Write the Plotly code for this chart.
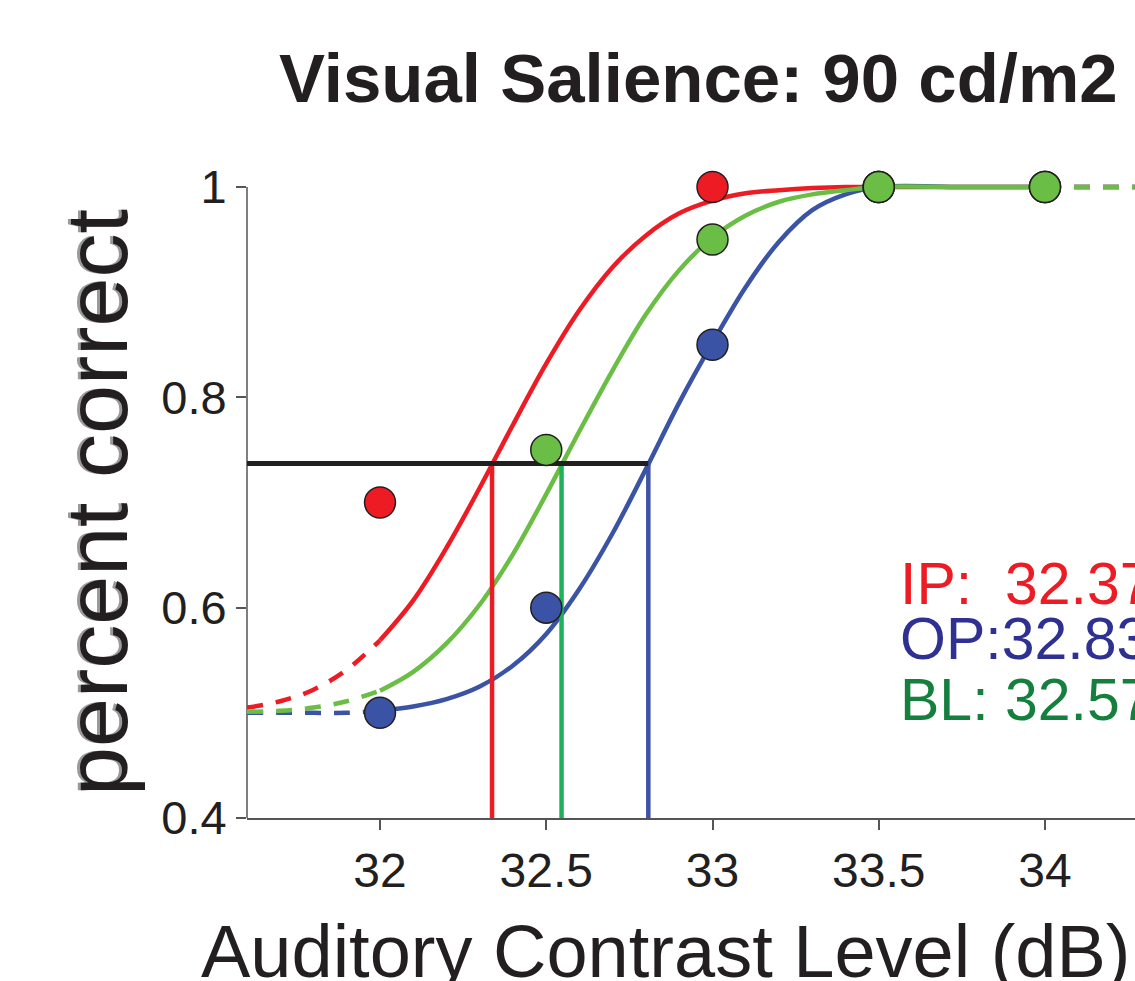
import plotly.graph_objects as go

# ---------------- data ----------------
x_ticks = [32, 32.5, 33, 33.5, 34]
x_tick_labels = ["32", "32.5", "33", "33.5", "34"]
y_ticks = [0.4, 0.6, 0.8, 1.0]
y_tick_labels = ["0.4", "0.6", "0.8", "1"]

# observed proportions
ip_x = [32, 33, 33.5, 34]
ip_y = [0.70, 1.00, 1.00, 1.00]
op_x = [32, 32.5, 33, 33.5, 34]
op_y = [0.50, 0.60, 0.85, 1.00, 1.00]
bl_x = [32.5, 33, 33.5, 34]
bl_y = [0.75, 0.95, 1.00, 1.00]

# fitted curves
curve_x = [31.6, 31.7, 31.8, 31.9, 32.0, 32.1, 32.2, 32.3, 32.4, 32.5, 32.6,
           32.7, 32.8, 32.9, 33.0, 33.1, 33.2, 33.3, 33.4, 33.5, 33.75, 34.0,
           34.27]
ip_curve = [0.505, 0.511, 0.522, 0.541, 0.569, 0.607, 0.657, 0.714, 0.774,
            0.832, 0.883, 0.924, 0.954, 0.975, 0.987, 0.994, 0.997, 0.999,
            1.0, 1.0, 1.0, 1.0, 1.0]
op_curve = [0.500, 0.500, 0.500, 0.500, 0.502, 0.506, 0.513, 0.525, 0.545,
            0.575, 0.618, 0.671, 0.732, 0.795, 0.852, 0.905, 0.948, 0.978,
            0.993, 1.0, 1.0, 1.0, 1.0]
bl_curve = [0.501, 0.502, 0.505, 0.511, 0.521, 0.539, 0.566, 0.603, 0.651,
            0.708, 0.768, 0.826, 0.879, 0.921, 0.952, 0.973, 0.986, 0.993,
            0.997, 1.0, 1.0, 1.0, 1.0]
data_min, data_max = 32.0, 34.0

# thresholds
criterion = 0.737
thr_ip, thr_op, thr_bl = 32.337, 32.807, 32.546

labels = ["IP:\u00a0\u00a032.37", "OP:32.83", "BL:\u00a032.57"]

# ---------------- styling ----------------
RED = "#ED1C24"
BLUE = "#3A53A4"
GREEN = "#6ABD45"
GREEN_V = "#1FB25A"
BLUE_V = "#4052A5"
INK = "#231F20"
AXIS = "#555555"
FONT = "Liberation Sans, Arial, sans-serif"
DASH = "16px,13px"

fig = go.Figure()


def add_curve(ys, color):
    left = [(x, y) for x, y in zip(curve_x, ys) if x <= data_min]
    mid = [(x, y) for x, y in zip(curve_x, ys) if data_min <= x <= data_max]
    right = [(x, y) for x, y in zip(curve_x, ys) if x >= data_max]
    for seg, dash in ((left, DASH), (mid, "solid"), (right, DASH)):
        fig.add_trace(go.Scatter(
            x=[p[0] for p in seg], y=[p[1] for p in seg], mode="lines",
            line=dict(color=color, width=4.5, shape="spline", dash=dash),
            hoverinfo="skip"))


add_curve(ip_curve, RED)
add_curve(op_curve, BLUE)
add_curve(bl_curve, GREEN)

# threshold droplines
for t, c in ((thr_ip, RED), (thr_bl, GREEN_V), (thr_op, BLUE_V)):
    fig.add_trace(go.Scatter(x=[t, t], y=[0.4, criterion], mode="lines",
                             line=dict(color=c, width=4.5), hoverinfo="skip"))
fig.add_trace(go.Scatter(x=[31.6, max(thr_ip, thr_op, thr_bl)],
                         y=[criterion, criterion], mode="lines",
                         line=dict(color=INK, width=5), hoverinfo="skip"))

# observed points
for xs, ys, c in ((ip_x, ip_y, RED), (op_x, op_y, BLUE), (bl_x, bl_y, GREEN)):
    fig.add_trace(go.Scatter(
        x=xs, y=ys, mode="markers", cliponaxis=False,
        marker=dict(size=31, color=c, line=dict(color=INK, width=1.5))))

# y-axis line (only up to 1)
fig.add_shape(type="line", xref="paper", x0=0, x1=0, yref="y", y0=0.4, y1=1.0,
              line=dict(color=AXIS, width=1.5), layer="below")

ann = []
for txt, yv, c in zip(labels, [0.6225, 0.570, 0.512], [RED, "#2E3192", "#15803D"]):
    ann.append(dict(text=txt, x=33.558, y=yv, xref="x", yref="y",
                    xanchor="left", yanchor="middle", showarrow=False,
                    font=dict(family=FONT, size=59, color=c)))

# axis titles
ann.append(dict(text="Auditory Contrast Level (dB)", x=(666 - 247) / 888,
                y=-0.2048, xref="paper", yref="paper", xanchor="center",
                yanchor="middle", showarrow=False,
                font=dict(family=FONT, size=74, color=INK)))
ann.append(dict(text="percent correct", x=(96 - 247) / 888, y=(818 - 503) / 652,
                xref="paper", yref="paper", xanchor="center", yanchor="middle",
                textangle=-90, showarrow=False, xshift=-3,
                font=dict(family=FONT, size=88, color="#9A9A9A")))
ann.append(dict(text="percent correct", x=(96 - 247) / 888, y=(818 - 503) / 652,
                xref="paper", yref="paper", xanchor="center", yanchor="middle",
                textangle=-90, showarrow=False,
                font=dict(family=FONT, size=88, color=INK)))
# title
ann.append(dict(text="<b>Visual Salience: 90 cd/m2</b>", x=(698 - 247) / 888,
                y=(818 - 78.5) / 652, xref="paper", yref="paper",
                xanchor="center", yanchor="middle", showarrow=False,
                font=dict(family=FONT, size=69, color=INK)))

fig.update_layout(
    width=1135, height=981,
    margin=dict(l=247, r=0, t=166, b=163),
    paper_bgcolor="white", plot_bgcolor="white",
    showlegend=False,
    annotations=ann,
    xaxis=dict(range=[31.6, 34.2707], tickvals=x_ticks, ticktext=x_tick_labels,
               ticks="outside", ticklen=10, tickwidth=1.5, tickcolor=AXIS,
               showline=True, linecolor=AXIS, linewidth=1.5, showgrid=False,
               zeroline=False, tickfont=dict(family=FONT, size=48, color=INK)),
    yaxis=dict(range=[0.4, 1.02], tickvals=y_ticks, ticktext=y_tick_labels,
               ticks="outside", ticklen=10, tickwidth=1.5, tickcolor=AXIS,
               showline=False, showgrid=False, zeroline=False,
               tickfont=dict(family=FONT, size=47, color=INK)),
)

fig.write_html("out.html")
